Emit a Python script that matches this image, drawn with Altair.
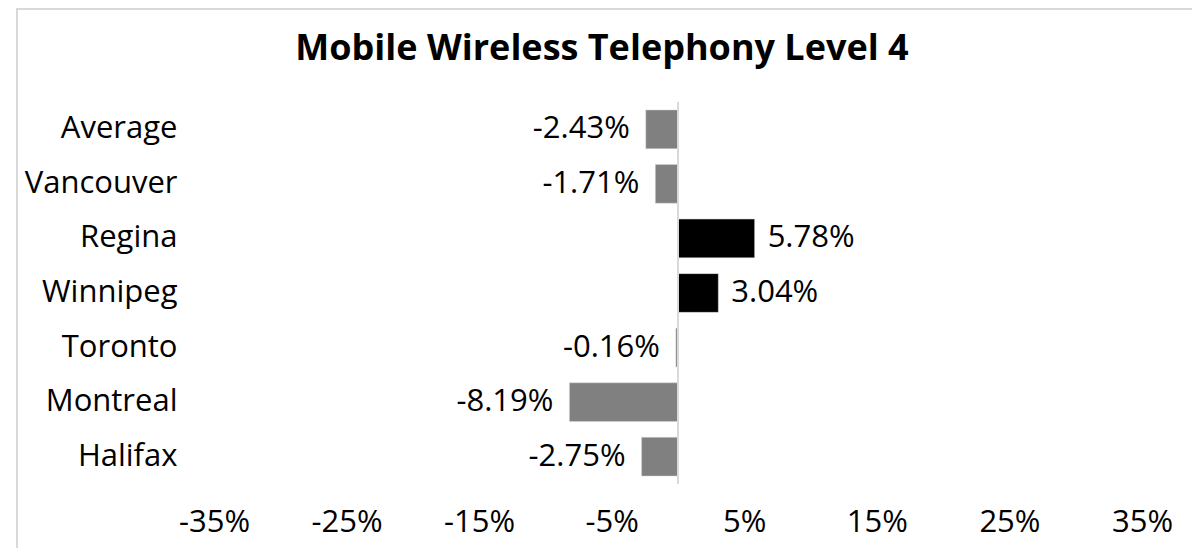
import altair as alt
import pandas as pd

title_text = "Mobile Wireless Telephony Level 4"
cities = ["Average", "Vancouver", "Regina", "Winnipeg", "Toronto", "Montreal", "Halifax"]
changes = [-2.43, -1.71, 5.78, 3.04, -0.16, -8.19, -2.75]
ticks = [-35, -25, -15, -5, 5, 15, 25, 35]

df = pd.DataFrame({"city": cities, "change": changes})
df["label"] = [f"{v:.2f}%" for v in changes]
df["sign"] = ["pos" if v > 0 else "neg" for v in changes]

FONT = "Open Sans"
FS = 31
PL, PT = 206, 94

x = alt.X(
    "change:Q",
    scale=alt.Scale(domain=[-35, 35], nice=False, zero=False),
    axis=alt.Axis(values=ticks, labelExpr="datum.value + '%'", grid=False, domain=False,
                  ticks=False, labelFontSize=FS, labelPadding=23, title=None, labelFlush=False,
                  labelFont=FONT, labelColor="black"),
)
y = alt.Y(
    "city:N", sort=cities,
    scale=alt.Scale(paddingInner=0.29, paddingOuter=0.145),
    axis=alt.Axis(grid=False, domain=False, ticks=False, labelFontSize=FS, labelPadding=37,
                  title=None, labelFont=FONT, labelColor="black"),
)

base = alt.Chart(df)
bars = base.mark_bar(stroke="#d9d9d9", strokeWidth=0.5).encode(
    x=x, y=y,
    color=alt.Color("sign:N", scale=alt.Scale(domain=["neg", "pos"], range=["#808080", "#000000"]), legend=None),
)
neg_lbl = base.transform_filter("datum.change < 0").mark_text(
    align="right", dx=-16, font=FONT, fontSize=FS, color="black").encode(x=x, y=y, text="label:N")
pos_lbl = base.transform_filter("datum.change > 0").mark_text(
    align="left", dx=13, font=FONT, fontSize=FS, color="black").encode(x=x, y=y, text="label:N")
zero = alt.Chart(pd.DataFrame({"z": [0]})).mark_rule(color="#d9d9d9", strokeWidth=2).encode(x=alt.X("z:Q"))
border = alt.Chart(pd.DataFrame({"a": [0]})).mark_rect(fill=None, stroke="#d9d9d9", strokeWidth=2).encode(
    x=alt.value(-(PL - 9)), x2=alt.value(1200), y=alt.value(-(PT - 1)), y2=alt.value(700))
title = alt.Chart(pd.DataFrame({"t": [title_text]})).mark_text(
    font=FONT, fontSize=36, fontWeight="bold", color="black", align="center", baseline="middle").encode(
    x=alt.value(602 - 8 - PL), y=alt.value(49 - 8 - PT), text="t:N")

chart = alt.layer(border, bars, zero, neg_lbl, pos_lbl, title).properties(
    width=928, height=382,
    padding={"left": PL, "top": PT, "right": 1184 - PL - 928, "bottom": 64},
    autosize=alt.AutoSizeParams(type="none"),
).configure_view(stroke=None)

chart.save("out.html", embed_options={"renderer": "svg", "actions": False})
